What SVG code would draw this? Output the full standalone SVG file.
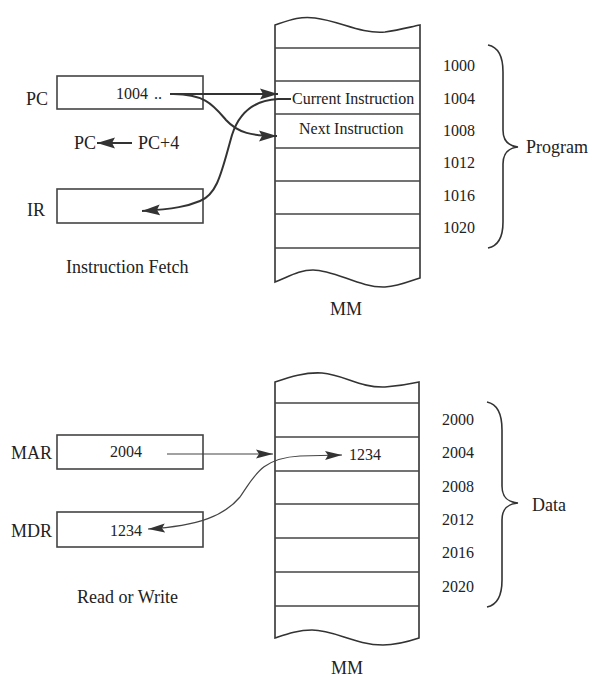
<svg xmlns="http://www.w3.org/2000/svg" width="594" height="677" viewBox="0 0 594 677">
<style>
text{font-family:"Liberation Serif","DejaVu Serif",serif;fill:#222}
.lbl{font-size:18px}
.val{font-size:16px}
.addr{font-size:16px}
.box{fill:none;stroke:#444;stroke-width:1.6}
.mem{fill:none;stroke:#333;stroke-width:1.6}
.cell{stroke:#444;stroke-width:1.4}
.brace{fill:none;stroke:#333;stroke-width:1.6}
.thick{fill:none;stroke:#333;stroke-width:2}
.thin{fill:none;stroke:#444;stroke-width:1.2}
</style>
<defs>
<marker id="ah" viewBox="0 0 18 12" refX="18" refY="6" markerWidth="18" markerHeight="12" markerUnits="userSpaceOnUse" orient="auto-start-reverse">
<path d="M0,0.5 L18,6 L0,11.5 L3,6 Z" fill="#333"/>
</marker>
<marker id="ahs" viewBox="0 0 17 10" refX="17" refY="5" markerWidth="17" markerHeight="10" markerUnits="userSpaceOnUse" orient="auto-start-reverse">
<path d="M0,0.5 L17,5 L0,9.5 L3,5 Z" fill="#333"/>
</marker>
</defs>

<!-- Top section: Instruction Fetch -->
<g id="pc">
<text class="lbl" x="26" y="105">PC</text>
<rect class="box" x="57" y="76" width="146" height="33"/>
<text class="val" x="116" y="99">1004</text>
<text class="val" x="154" y="99">..</text>
</g>
<g id="pc-update">
<text class="lbl" x="74" y="149">PC</text>
<text class="lbl" x="138" y="149">PC+4</text>
</g>
<g id="ir">
<text class="lbl" x="27" y="216">IR</text>
<rect class="box" x="57" y="189" width="146" height="34"/>
</g>
<text id="fetch-caption" class="lbl" x="66" y="273">Instruction Fetch</text>

<g id="mm-top">
<path class="mem" d="M275,25 C290,20 300,16 315,18 C340,21 360,34 385,32 C400,30 410,27 420,25 L420,278 C410,281 400,286 385,287 C360,288 335,270 313,270 C300,270 290,276 275,282 Z"/>
<line class="cell" x1="275" y1="48" x2="420" y2="48"/>
<line class="cell" x1="275" y1="81" x2="420" y2="81"/>
<line class="cell" x1="275" y1="114" x2="420" y2="114"/>
<line class="cell" x1="275" y1="148" x2="420" y2="148"/>
<line class="cell" x1="275" y1="181" x2="420" y2="181"/>
<line class="cell" x1="275" y1="214" x2="420" y2="214"/>
<line class="cell" x1="275" y1="248" x2="420" y2="248"/>
<text class="val" x="292" y="104">Current Instruction</text>
<text class="val" x="299" y="134" font-size="16.5">Next Instruction</text>
<text class="lbl" x="346" y="315" text-anchor="middle" font-size="17">MM</text>
</g>
<g id="addr-top">
<text class="addr" x="443" y="71">1000</text>
<text class="addr" x="443" y="104">1004</text>
<text class="addr" x="443" y="136">1008</text>
<text class="addr" x="443" y="168">1012</text>
<text class="addr" x="443" y="201">1016</text>
<text class="addr" x="443" y="233">1020</text>
</g>
<g id="program">
<path class="brace" d="M488,45 C498,47 503,56 503,72 L503,130 C503,141 508,146 518,147 C508,148 503,153 503,164 L503,222 C503,238 498,246 488,248"/>
<text class="lbl" x="526" y="153" font-size="17">Program</text>
</g>

<!-- Bottom section: Read or Write -->
<g id="mar">
<text class="lbl" x="11" y="459">MAR</text>
<rect class="box" x="57" y="435" width="146" height="34"/>
<text class="val" x="110" y="457">2004</text>
</g>
<g id="mdr">
<text class="lbl" x="11" y="537">MDR</text>
<rect class="box" x="57" y="512" width="146" height="35"/>
<text class="val" x="110" y="536">1234</text>
</g>
<text id="rw-caption" class="lbl" x="77" y="603">Read or Write</text>

<g id="mm-bottom">
<path class="mem" d="M275,382 C290,377 305,372 322,373 C345,375 360,388 385,387 C400,386 410,384 419,382 L419,638 C410,641 398,645 383,645 C355,645 335,630 312,630 C298,630 287,634 275,638 Z"/>
<line class="cell" x1="275" y1="403" x2="419" y2="403"/>
<line class="cell" x1="275" y1="437" x2="419" y2="437"/>
<line class="cell" x1="275" y1="471" x2="419" y2="471"/>
<line class="cell" x1="275" y1="504" x2="419" y2="504"/>
<line class="cell" x1="275" y1="538" x2="419" y2="538"/>
<line class="cell" x1="275" y1="572" x2="419" y2="572"/>
<line class="cell" x1="275" y1="606" x2="419" y2="606"/>
<text class="val" x="349" y="460" font-size="15">1234</text>
<text class="lbl" x="347" y="674" text-anchor="middle" font-size="17">MM</text>
</g>
<g id="addr-bottom">
<text class="addr" x="442" y="425">2000</text>
<text class="addr" x="442" y="458">2004</text>
<text class="addr" x="442" y="492">2008</text>
<text class="addr" x="442" y="525">2012</text>
<text class="addr" x="442" y="558">2016</text>
<text class="addr" x="442" y="592">2020</text>
</g>
<g id="data">
<path class="brace" d="M487,402 C497,404 502,413 502,430 L502,486 C502,497 507,502 518,503 C507,504 502,509 502,520 L502,580 C502,597 497,605 487,607"/>
<text class="lbl" x="532" y="511" font-size="17">Data</text>
</g>

<g id="connectors">
<path class="thick" marker-end="url(#ah)" d="M170,94 L278,94"/>
<path class="thick" marker-end="url(#ah)" d="M170,94 C205,93 214,106 226,120 C238,133 252,136 277,136"/>
<path class="thick" marker-end="url(#ah)" d="M291,99 L278,99 C258,100 240,110 232,135 C222,170 218,194 200,201 C188,206 175,209 142,211"/>
<path class="thick" marker-end="url(#ah)" d="M132,143 L97,143"/>
<path class="thin" marker-end="url(#ahs)" d="M167,454 L273,454"/>
<path class="thin" stroke-width="1.5" marker-start="url(#ahs)" marker-end="url(#ahs)" d="M148,529 C200,526 225,515 240,497 C255,475 262,458 300,456 L342,455"/>
</g>
</svg>
